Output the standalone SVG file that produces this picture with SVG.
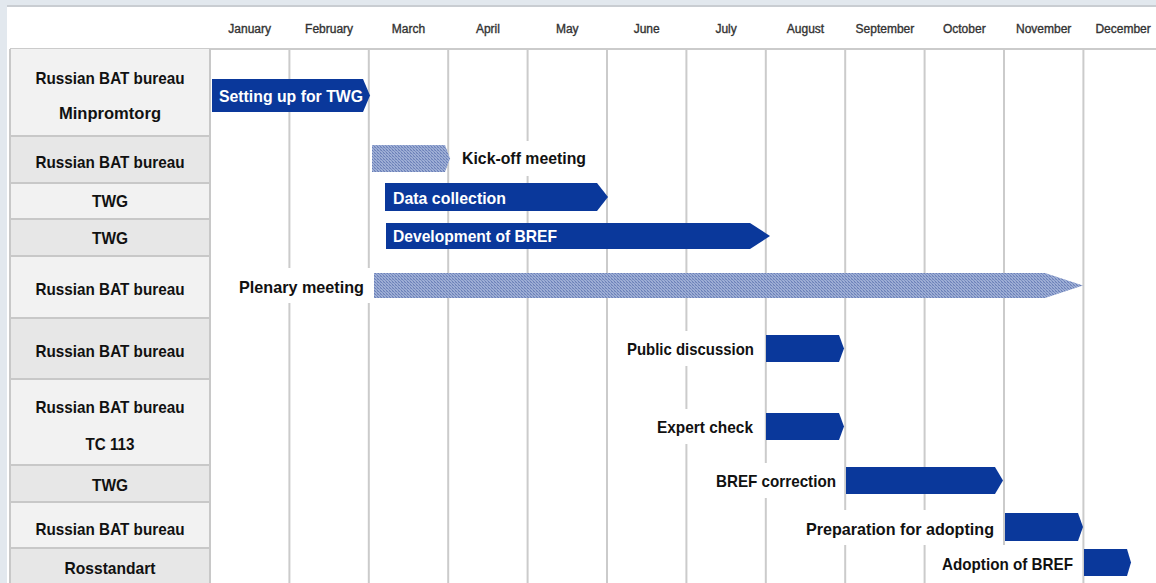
<svg xmlns="http://www.w3.org/2000/svg" width="1156" height="583" viewBox="0 0 1156 583">
<style>
.month{font-family:"Liberation Sans",Arial,sans-serif;font-size:12px;fill:#333;stroke:#333;stroke-width:0.35;text-anchor:middle}
.rl{font-family:"Liberation Sans",Arial,sans-serif;font-size:17px;font-weight:bold;fill:#111;text-anchor:middle}
.bl{font-family:"Liberation Sans",Arial,sans-serif;font-size:17px;font-weight:bold;fill:#111}
.bw{font-family:"Liberation Sans",Arial,sans-serif;font-size:17px;font-weight:bold;fill:#fff}
.light{fill:#f2f2f2}
.dark{fill:#e7e7e7}
.cellline{stroke:#c8c8c8;stroke-width:2;fill:none}
.grid{stroke:#cbcbcb;stroke-width:2}
.bar{fill:#0a389b}
.hatch{fill:url(#dots)}
.lbox{fill:#fff}
</style>
<defs>
<pattern id="dots" width="3" height="3" patternUnits="userSpaceOnUse">
<rect width="3" height="3" fill="#9eaed5"/>
<rect width="1" height="1" fill="#6a80b8"/>
<rect x="1" y="1" width="1" height="1" fill="#7b90c2"/>
<rect x="2" y="2" width="1" height="1" fill="#6a80b8"/>
<rect x="2" y="0" width="1" height="1" fill="#8799c8"/>
</pattern>
</defs>

<!-- background -->
<rect width="1156" height="583" fill="#e2e8ee"/>
<rect x="7" y="7" width="1149" height="576" fill="#fff"/>
<line x1="7" y1="6" x2="1156" y2="6" stroke="#c9cdd2" stroke-width="2"/>

<!-- header months -->
<g id="header">
<text class="month" x="249.7" y="33">January</text>
<text class="month" x="329.1" y="33">February</text>
<text class="month" x="408.5" y="33">March</text>
<text class="month" x="487.9" y="33">April</text>
<text class="month" x="567.3" y="33">May</text>
<text class="month" x="646.7" y="33">June</text>
<text class="month" x="726.1" y="33">July</text>
<text class="month" x="805.5" y="33">August</text>
<text class="month" x="884.9" y="33">September</text>
<text class="month" x="964.3" y="33">October</text>
<text class="month" x="1043.7" y="33">November</text>
<text class="month" x="1123.1" y="33">December</text>
</g>

<!-- grid -->
<g id="grid">
<line class="grid" x1="10" y1="49" x2="1156" y2="49"/>
<line class="grid" x1="289.4" y1="49" x2="289.4" y2="583"/>
<line class="grid" x1="368.8" y1="49" x2="368.8" y2="583"/>
<line class="grid" x1="448.2" y1="49" x2="448.2" y2="583"/>
<line class="grid" x1="527.6" y1="49" x2="527.6" y2="583"/>
<line class="grid" x1="607" y1="49" x2="607" y2="583"/>
<line class="grid" x1="686.4" y1="49" x2="686.4" y2="583"/>
<line class="grid" x1="765.8" y1="49" x2="765.8" y2="583"/>
<line class="grid" x1="845.2" y1="49" x2="845.2" y2="583"/>
<line class="grid" x1="924.6" y1="49" x2="924.6" y2="583"/>
<line class="grid" x1="1004" y1="49" x2="1004" y2="583"/>
<line class="grid" x1="1083.4" y1="49" x2="1083.4" y2="583"/>
</g>

<!-- row labels -->
<g id="row1"><rect class="light" x="10" y="49" width="200" height="87"/><text class="rl" x="110" y="84" textLength="149" lengthAdjust="spacingAndGlyphs">Russian BAT bureau</text><text class="rl" x="110" y="119" textLength="102" lengthAdjust="spacingAndGlyphs">Minpromtorg</text></g>
<g id="row2"><rect class="dark" x="10" y="136" width="200" height="47"/><text class="rl" x="110" y="167.5" textLength="149" lengthAdjust="spacingAndGlyphs">Russian BAT bureau</text></g>
<g id="row3"><rect class="light" x="10" y="183" width="200" height="36"/><text class="rl" x="110" y="207" textLength="36" lengthAdjust="spacingAndGlyphs">TWG</text></g>
<g id="row4"><rect class="dark" x="10" y="219" width="200" height="37"/><text class="rl" x="110" y="244" textLength="36" lengthAdjust="spacingAndGlyphs">TWG</text></g>
<g id="row5"><rect class="light" x="10" y="256" width="200" height="62"/><text class="rl" x="110" y="294.5" textLength="149" lengthAdjust="spacingAndGlyphs">Russian BAT bureau</text></g>
<g id="row6"><rect class="dark" x="10" y="318" width="200" height="61"/><text class="rl" x="110" y="357" textLength="149" lengthAdjust="spacingAndGlyphs">Russian BAT bureau</text></g>
<g id="row7"><rect class="light" x="10" y="379" width="200" height="86"/><text class="rl" x="110" y="413" textLength="149" lengthAdjust="spacingAndGlyphs">Russian BAT bureau</text><text class="rl" x="110" y="450" textLength="49" lengthAdjust="spacingAndGlyphs">TC 113</text></g>
<g id="row8"><rect class="dark" x="10" y="465" width="200" height="37"/><text class="rl" x="110" y="490.5" textLength="36" lengthAdjust="spacingAndGlyphs">TWG</text></g>
<g id="row9"><rect class="light" x="10" y="502" width="200" height="46"/><text class="rl" x="110" y="535" textLength="149" lengthAdjust="spacingAndGlyphs">Russian BAT bureau</text></g>
<g id="row10"><rect class="dark" x="10" y="548" width="200" height="35"/><text class="rl" x="110" y="573.5" textLength="91" lengthAdjust="spacingAndGlyphs">Rosstandart</text></g>
<g id="rowlines">
<path class="cellline" d="M10,49V583M210,49V583M10,136H210M10,183H210M10,219H210M10,256H210M10,318H210M10,379H210M10,465H210M10,502H210M10,548H210"/>
</g>

<!-- tasks -->
<g id="task-setup">
<polygon class="bar" points="212,79 363,79 370,95.5 363,112 212,112"/>
<text class="bw" x="219" y="101.5" textLength="144" lengthAdjust="spacingAndGlyphs">Setting up for TWG</text>
</g>
<g id="task-kickoff">
<polygon class="hatch" points="372,145 445,145 450,158.5 445,172 372,172"/>
<rect class="lbox" x="457" y="141" width="134" height="35"/>
<text class="bl" x="462" y="163.5" textLength="124" lengthAdjust="spacingAndGlyphs">Kick-off meeting</text>
</g>
<g id="task-data">
<polygon class="bar" points="385,183 597,183 608,197 597,211 385,211"/>
<text class="bw" x="393" y="203.5" textLength="113" lengthAdjust="spacingAndGlyphs">Data collection</text>
</g>
<g id="task-dev">
<polygon class="bar" points="386,223 750,223 770,236 750,249 386,249"/>
<text class="bw" x="393" y="242" textLength="164" lengthAdjust="spacingAndGlyphs">Development of BREF</text>
</g>
<g id="task-plenary">
<rect class="lbox" x="233" y="268" width="137" height="35"/>
<polygon class="hatch" points="374,273 1045,273 1083,285.5 1045,298 374,298"/>
<text class="bl" x="239" y="292.5" textLength="125" lengthAdjust="spacingAndGlyphs">Plenary meeting</text>
</g>
<g id="task-public">
<rect class="lbox" x="621" y="331" width="140" height="35"/>
<polygon class="bar" points="766,335 839,335 844,348.5 839,362 766,362"/>
<text class="bl" x="627" y="355" textLength="127" lengthAdjust="spacingAndGlyphs">Public discussion</text>
</g>
<g id="task-expert">
<rect class="lbox" x="651" y="409" width="110" height="35"/>
<polygon class="bar" points="766,413 839,413 844,426.5 839,440 766,440"/>
<text class="bl" x="657" y="433" textLength="96" lengthAdjust="spacingAndGlyphs">Expert check</text>
</g>
<g id="task-correction">
<rect class="lbox" x="710" y="463" width="132" height="35"/>
<polygon class="bar" points="846,467 995,467 1003,480.5 995,494 846,494"/>
<text class="bl" x="716" y="487" textLength="120" lengthAdjust="spacingAndGlyphs">BREF correction</text>
</g>
<g id="task-prep">
<rect class="lbox" x="800" y="510" width="201" height="35"/>
<polygon class="bar" points="1005,513 1078,513 1083,527 1078,541 1005,541"/>
<text class="bl" x="806" y="535" textLength="188" lengthAdjust="spacingAndGlyphs">Preparation for adopting</text>
</g>
<g id="task-adoption">
<rect class="lbox" x="936" y="545" width="144" height="38"/>
<polygon class="bar" points="1084,549 1127,549 1131,562.5 1127,576 1084,576"/>
<text class="bl" x="942" y="570" textLength="131" lengthAdjust="spacingAndGlyphs">Adoption of BREF</text>
</g>
<g id="connectors"></g>
</svg>
